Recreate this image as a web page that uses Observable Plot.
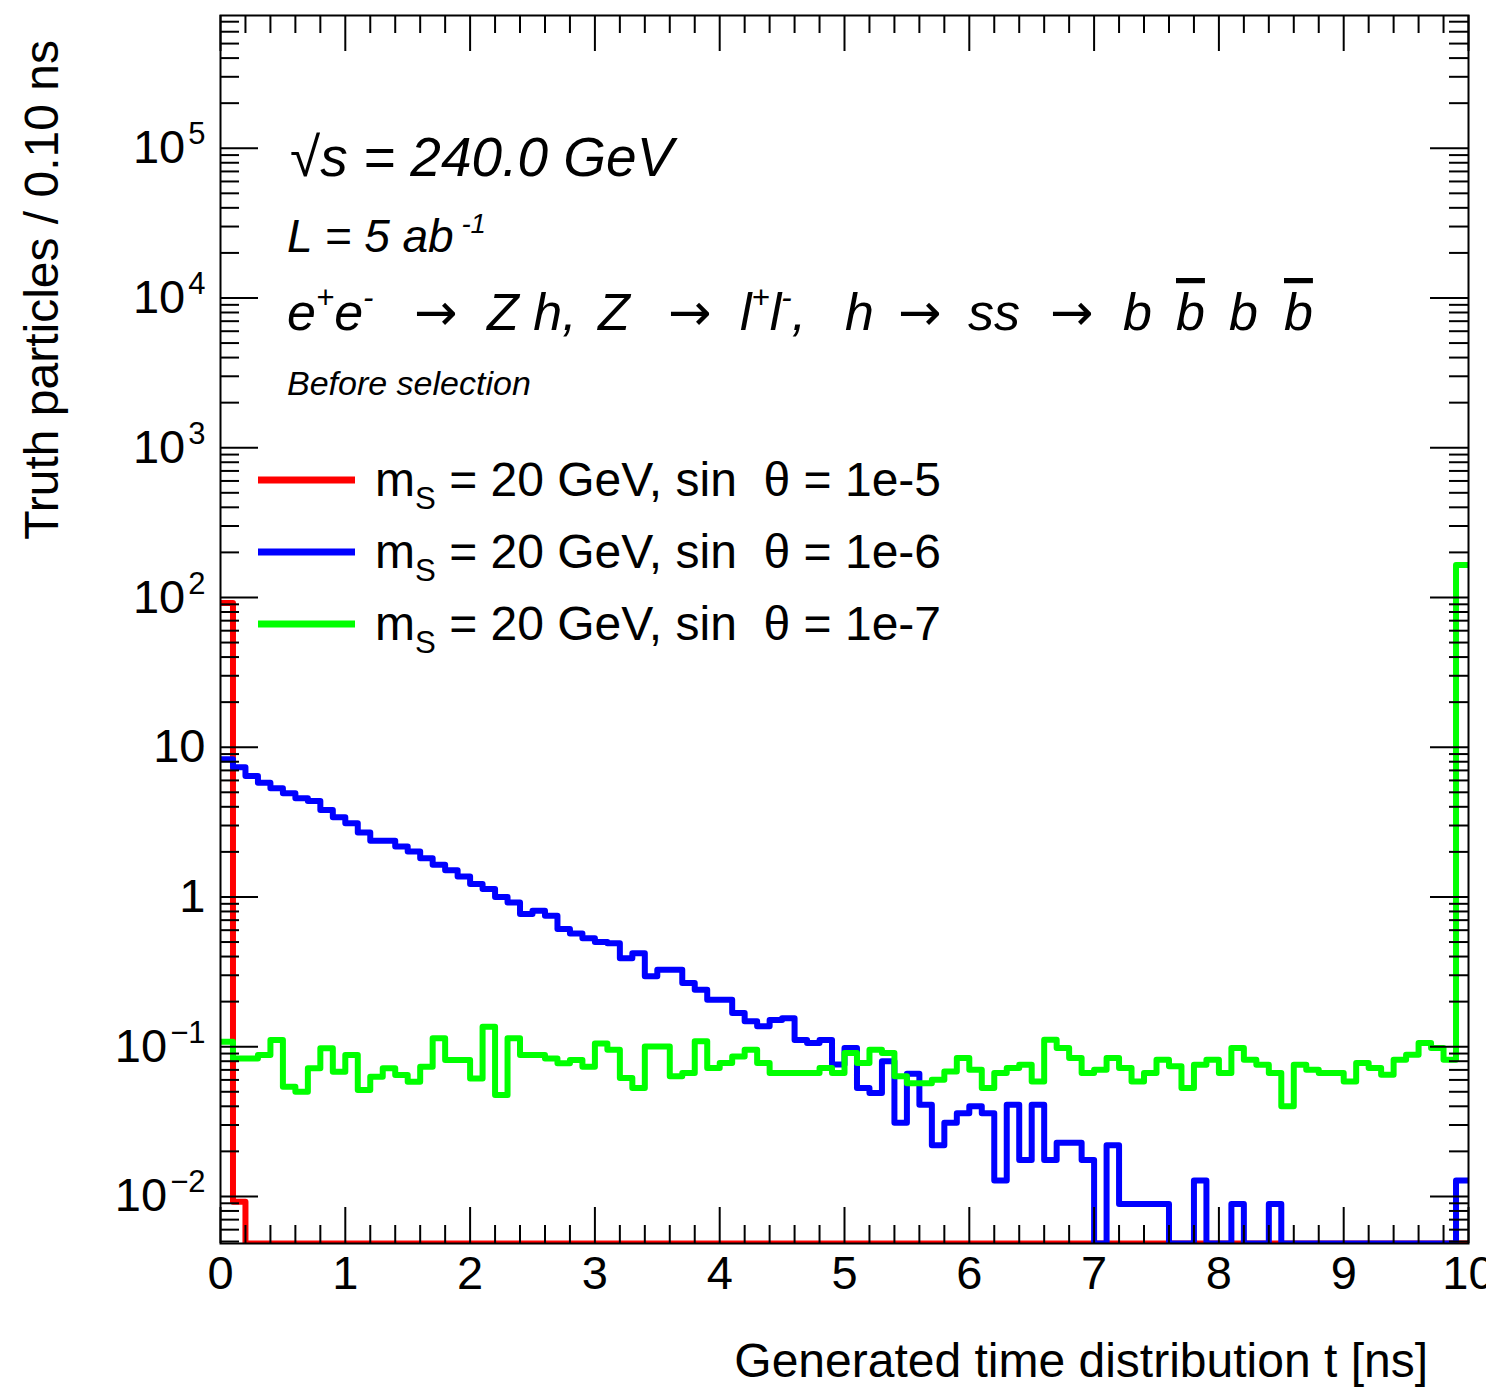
<!DOCTYPE html>
<html><head><meta charset="utf-8">
<script src="https://cdn.jsdelivr.net/npm/d3@7"></script>
<script src="https://cdn.jsdelivr.net/npm/@observablehq/plot@0.6"></script>
<style>
html,body{margin:0;padding:0;background:#fff;}
#chart svg{display:block;}
</style>
</head><body><div id="chart"></div>
<script>
// ---- Data: 100 bins of 0.10 ns from 0 to 10 ns ----
const binWidth = 0.1;
const redCounts = [
  92, 0.0092, 0, 0, 0, 0, 0, 0, 0, 0,
  0, 0, 0, 0, 0, 0, 0, 0, 0, 0,
  0, 0, 0, 0, 0, 0, 0, 0, 0, 0,
  0, 0, 0, 0, 0, 0, 0, 0, 0, 0,
  0, 0, 0, 0, 0, 0, 0, 0, 0, 0,
  0, 0, 0, 0, 0, 0, 0, 0, 0, 0,
  0, 0, 0, 0, 0, 0, 0, 0, 0, 0,
  0, 0, 0, 0, 0, 0, 0, 0, 0, 0,
  0, 0, 0, 0, 0, 0, 0, 0, 0, 0,
  0, 0, 0, 0, 0, 0, 0, 0, 0, 0
];
const blueCounts = [
  8.3, 7.35, 6.43, 5.8, 5.32, 4.93, 4.56, 4.38, 3.81, 3.41,
  3.11, 2.69, 2.37, 2.37, 2.17, 2.01, 1.81, 1.64, 1.51, 1.37,
  1.22, 1.13, 1.0, 0.92, 0.77, 0.81, 0.75, 0.61, 0.57, 0.53,
  0.50, 0.49, 0.39, 0.42, 0.295, 0.327, 0.327, 0.266, 0.24, 0.206,
  0.206, 0.168, 0.148, 0.137, 0.151, 0.155, 0.111, 0.106, 0.111, 0.076,
  0.098, 0.053, 0.049, 0.08, 0.031, 0.066, 0.041, 0.022, 0.031, 0.036,
  0.040, 0.036, 0.0128, 0.041, 0.0175, 0.041, 0.0175, 0.0228, 0.0228, 0.0175,
  0, 0.022, 0.0089, 0.0089, 0.0089, 0.0089, 0, 0, 0.0128, 0,
  0, 0.0089, 0, 0, 0.0089, 0, 0, 0, 0, 0,
  0, 0, 0, 0, 0, 0, 0, 0, 0, 0.0128
];
const greenCounts = [
  0.108, 0.0835, 0.0835, 0.088, 0.111, 0.054, 0.050, 0.0717, 0.0975, 0.068,
  0.088, 0.0513, 0.063, 0.0717, 0.0647, 0.0584, 0.0735, 0.1137, 0.0814, 0.0814,
  0.0614, 0.136, 0.0475, 0.1137, 0.088, 0.088, 0.0835, 0.0774, 0.0814, 0.0735,
  0.105, 0.0955, 0.0618, 0.053, 0.1005, 0.1005, 0.0634, 0.0667, 0.1086, 0.072,
  0.0778, 0.0861, 0.0955, 0.0778, 0.0667, 0.0667, 0.0667, 0.0667, 0.072, 0.0667,
  0.0907, 0.0778, 0.0955, 0.0907, 0.0634, 0.0571, 0.0571, 0.0602, 0.0684, 0.084,
  0.0702, 0.053, 0.0667, 0.072, 0.0759, 0.0586, 0.1114, 0.098, 0.084, 0.0667,
  0.0702, 0.084, 0.072, 0.0586, 0.0667, 0.0819, 0.074, 0.053, 0.0759, 0.0819,
  0.0667, 0.098, 0.0819, 0.0759, 0.0667, 0.040, 0.0759, 0.0702, 0.0667, 0.0667,
  0.0586, 0.0778, 0.072, 0.065, 0.0819, 0.0885, 0.1057, 0.098, 0.0819, 165
];
const seriesNames = ["1e-5", "1e-6", "1e-7"];
const seriesColors = ["#ff0000", "#0000ff", "#00ff00"];
const xTickValues = [0, 1, 2, 3, 4, 5, 6, 7, 8, 9, 10];
const yTickValues = [1e-2, 1e-1, 1, 10, 1e2, 1e3, 1e4, 1e5];

// ---- Layout ----
const W = 1486, H = 1389;
const mL = 220, mR = 18, mT = 15, mB = 146;
const plotW = W - mL - mR, plotH = H - mT - mB;
const Y_MIN = 0.00485, Y_MAX = 7.7e5;
const FONT = "'Liberation Sans', Arial, Helvetica, sans-serif";
const ARROW_FONT = "'DejaVu Sans', sans-serif";

const xMinor = d3.range(0, 10.0001, 0.2).map(v => +v.toFixed(1)).filter(v => Math.abs(v - Math.round(v)) > 1e-6);
const yMinor = [];
for (let e = -3; e <= 5; e++) for (let m = 2; m <= 9; m++) { const v = m * Math.pow(10, e); if (v > Y_MIN && v < Y_MAX) yMinor.push(v); }

function steps(vals) {
  const pts = vals.map((v, i) => ({t: i * binWidth, v}));
  pts.push({t: vals.length * binWidth, v: vals[vals.length - 1]});
  return pts;
}
const yClamp = d => Math.max(d.v, Y_MIN);

function yFmt(d) {
  const e = Math.round(Math.log10(d));
  if (e === 0) return "1";
  if (e === 1) return "10";
  return "10^" + (e < 0 ? "\u2212" + (-e) : String(e));
}

const tickStyle = {stroke: "black", strokeWidth: 2};
const LW = 6;
const chart = Plot.plot({
  width: W, height: H,
  marginLeft: mL, marginRight: mR, marginTop: mT, marginBottom: mB,
  style: {fontFamily: FONT, color: "black", background: "white"},
  x: {domain: [0, 10]},
  y: {type: "log", domain: [Y_MIN, Y_MAX]},
  marks: [
    Plot.line(steps(redCounts), {x: "t", y: yClamp, curve: "step-after", stroke: seriesColors[0], strokeWidth: LW, clip: true}),
    Plot.line(steps(blueCounts), {x: "t", y: yClamp, curve: "step-after", stroke: seriesColors[1], strokeWidth: LW, clip: true}),
    Plot.line(steps(greenCounts), {x: "t", y: yClamp, curve: "step-after", stroke: seriesColors[2], strokeWidth: LW, clip: true}),
    // inward ticks, all four sides
    Plot.tickX(xTickValues, {x: d => d, insetTop: plotH - 36, ...tickStyle}),
    Plot.tickX(xMinor, {x: d => d, insetTop: plotH - 18, ...tickStyle}),
    Plot.tickX(xTickValues, {x: d => d, insetBottom: plotH - 36, ...tickStyle}),
    Plot.tickX(xMinor, {x: d => d, insetBottom: plotH - 18, ...tickStyle}),
    Plot.tickY(yTickValues, {y: d => d, insetRight: plotW - 38, ...tickStyle}),
    Plot.tickY(yMinor, {y: d => d, insetRight: plotW - 19, ...tickStyle}),
    Plot.tickY(yTickValues, {y: d => d, insetLeft: plotW - 38, ...tickStyle}),
    Plot.tickY(yMinor, {y: d => d, insetLeft: plotW - 19, ...tickStyle}),
    Plot.frame({stroke: "black", strokeWidth: 2}),
    Plot.axisX(xTickValues, {anchor: "bottom", tickSize: 0, tickPadding: 12, fontSize: 47, label: null, tickFormat: d => String(d)}),
    Plot.axisY(yTickValues, {anchor: "left", tickSize: 0, tickPadding: 15, fontSize: 47, label: null, tickFormat: yFmt})
  ]
});
document.getElementById("chart").append(chart);
const svg = d3.select(chart);

// superscripts on y tick labels
svg.selectAll('g[aria-label="y-axis tick label"] text').each(function() {
  const el = d3.select(this);
  const s = el.text();
  if (s.includes("^")) {
    const [b, e] = s.split("^");
    el.text(b);
    el.append("tspan").attr("dy", -19).attr("dx", 3).attr("font-size", 31).text(e);
  }
});

// rich text helper
function rich(x, y, size, parts, opts = {}) {
  const t = svg.append("text").attr("x", x).attr("y", y)
    .attr("font-size", size).attr("font-family", FONT)
    .attr("font-style", opts.italic ? "italic" : "normal")
    .attr("text-anchor", opts.anchor || "start")
    .attr("fill", "black").style("white-space", "pre");
  if (opts.transform) t.attr("transform", opts.transform);
  let shift = 0;
  for (const p of parts) {
    const s = t.append("tspan").text(p.t);
    let target = 0;
    if (p.sup) { target = -size * 0.42; s.attr("font-size", size * 0.6); }
    if (p.sub) { target = size * 0.28; s.attr("font-size", size * 0.65); }
    if (target !== shift) s.attr("dy", target - shift);
    shift = target;
    if (p.x != null) s.attr("x", p.x);
    if (p.dx) s.attr("dx", p.dx);
    if (p.over) s.style("text-decoration", "overline");
    if (p.arrow) s.attr("font-family", ARROW_FONT).attr("font-style", "normal");
  }
  return t;
}

// axis titles
rich(0, 0, 48, [{t: "Truth particles / 0.10 ns"}], {anchor: "end", transform: "translate(58,40) rotate(-90)"});
rich(1428, 1377, 48, [{t: "Generated time distribution t [ns]"}], {anchor: "end"});

// annotations
rich(290, 176, 55, [{t: "\u221As = 240.0 GeV"}], {italic: true});
rich(287, 252, 46, [{t: "L = 5 ab"}, {t: " -1", sup: true}], {italic: true});
rich(287, 330, 52, [
  {t: "e", x: 287}, {t: "+", sup: true}, {t: "e"}, {t: "-", sup: true},
  {t: "\u2192", x: 414, arrow: true}, {t: "Z h,", x: 487}, {t: "Z", x: 598},
  {t: "\u2192", x: 668, arrow: true}, {t: "l", x: 740}, {t: "+", sup: true}, {t: "l"}, {t: "-", sup: true}, {t: ","},
  {t: "h", x: 845}, {t: "\u2192", x: 898, arrow: true}, {t: "ss", x: 968},
  {t: "\u2192", x: 1050, arrow: true}, {t: "b", x: 1123}, {t: "b", x: 1176, over: true},
  {t: "b", x: 1229}, {t: "b", x: 1284, over: true}
], {italic: true});
rich(287, 395, 34, [{t: "Before selection"}], {italic: true});

// legend
const legendRows = [480, 552, 624];
seriesNames.forEach((name, i) => {
  svg.append("line").attr("x1", 258).attr("x2", 355)
    .attr("y1", legendRows[i]).attr("y2", legendRows[i])
    .attr("stroke", seriesColors[i]).attr("stroke-width", 7);
  rich(375, legendRows[i] + 16, 48, [
    {t: "m"}, {t: "S", sub: true}, {t: " = 20 GeV, sin  \u03B8 = " + name}
  ]);
});
</script>
</body></html>
